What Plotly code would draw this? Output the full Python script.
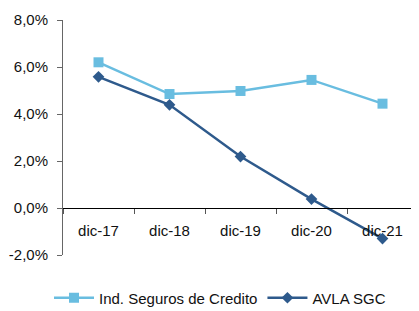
import plotly.graph_objects as go

categories = ["dic-17", "dic-18", "dic-19", "dic-20", "dic-21"]
ind_seguros = [6.2, 4.85, 4.98, 5.45, 4.44]
avla_sgc = [5.58, 4.39, 2.19, 0.38, -1.30]
y_ticks = [-2, 0, 2, 4, 6, 8]
y_tick_labels = ["-2,0%", "0,0%", "2,0%", "4,0%", "6,0%", "8,0%"]

light = "#69BDE0"
dark = "#2E5A8C"

W, H = 411, 303

fig = go.Figure()
fig.add_trace(go.Scatter(
    x=categories, y=ind_seguros, name="Ind. Seguros de Credito",
    mode="lines+markers", line=dict(color=light, width=2.5),
    marker=dict(symbol="square", size=10, color=light)))
fig.add_trace(go.Scatter(
    x=categories, y=avla_sgc, name="AVLA SGC",
    mode="lines+markers", line=dict(color=dark, width=2.5),
    marker=dict(symbol="diamond", size=9, color=dark)))

fig.update_layout(
    width=W, height=H,
    margin=dict(l=55, r=1, t=12, b=56, autoexpand=False),
    plot_bgcolor="white", paper_bgcolor="white",
    font=dict(family="Liberation Sans, Arial, sans-serif", size=15, color="#111"),
    showlegend=True,
    legend=dict(orientation="h", x=212 / W, xanchor="center", xref="container",
                y=(H - 290) / H, yanchor="middle", yref="container",
                font=dict(size=15), itemwidth=40, tracegroupgap=0),
    xaxis=dict(type="category", range=[-0.5, 4.5], anchor="free", position=0.2,
               showline=True, linecolor="black", linewidth=1.2,
               ticks="outside", tickson="boundaries", ticklen=5, tickcolor="#555",
               showgrid=False, zeroline=False, tickfont=dict(size=15),
               ticklabelstandoff=9, automargin=False),
    yaxis=dict(range=[-2, 8], tickvals=y_ticks, ticktext=y_tick_labels,
               showline=True, linecolor="#666", linewidth=1,
               ticks="outside", ticklen=5, tickcolor="#666",
               showgrid=False, zeroline=False, tickfont=dict(size=15),
               ticklabelstandoff=6, automargin=False),
)

fig.write_html("out.html")
